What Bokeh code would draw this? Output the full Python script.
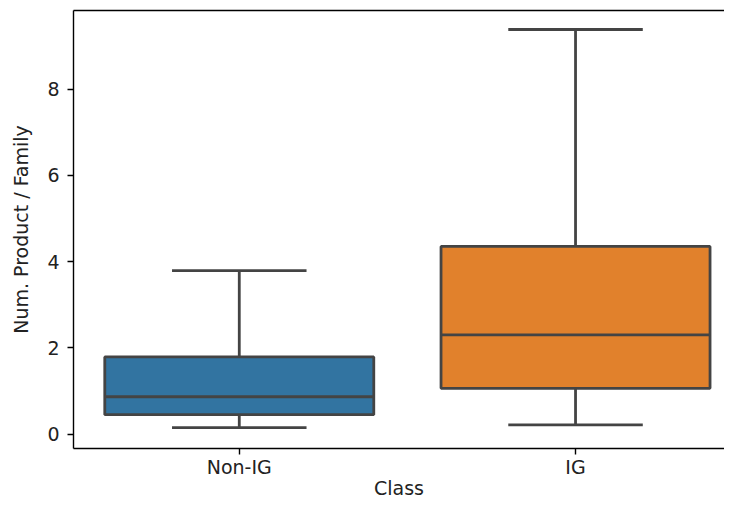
from bokeh.plotting import figure
from bokeh.models import ColumnDataSource, FixedTicker, LinearAxis, Range1d
from bokeh.embed import file_html
from bokeh.resources import INLINE

# ---- data ----
categories = ["Non-IG", "IG"]
whisker_low = [0.15, 0.216]
q1 = [0.45, 1.06]
median = [0.866, 2.30]
q3 = [1.79, 4.35]
whisker_high = [3.79, 9.38]
colors = ["#3274a1", "#e1812c"]
y_ticks = [0, 2, 4, 6, 8]
x_title = "Class"
y_title = "Num. Product / Family"

FONT = "DejaVu Sans"
FS = "19px"
GRAY = "#444444"
BOX_W = 0.8
CAP_W = 0.4
Y0, Y1 = -0.334, 9.82

xs = list(range(len(categories)))
src = ColumnDataSource(dict(
    x=xs,
    x0=[x - BOX_W / 2 for x in xs],
    x1=[x + BOX_W / 2 for x in xs],
    c0=[x - CAP_W / 2 for x in xs],
    c1=[x + CAP_W / 2 for x in xs],
    lo=whisker_low, q1=q1, med=median, q3=q3, hi=whisker_high, color=colors,
))

p = figure(width=724, height=502, output_backend="svg", toolbar_location=None,
           x_range=Range1d(-0.493, 1.443), y_range=Range1d(Y0, Y1),
           min_border_left=73, min_border_right=0, min_border_top=10, min_border_bottom=54)
p.outline_line_color = None
p.grid.visible = False
p.background_fill_color = "white"
p.border_fill_color = "white"

# whiskers
p.segment(x0="x", y0="q3", x1="x", y1="hi", source=src, line_color=GRAY, line_width=2.8)
p.segment(x0="x", y0="q1", x1="x", y1="lo", source=src, line_color=GRAY, line_width=2.8)
# caps
p.segment(x0="c0", y0="hi", x1="c1", y1="hi", source=src, line_color=GRAY, line_width=2.8)
p.segment(x0="c0", y0="lo", x1="c1", y1="lo", source=src, line_color=GRAY, line_width=2.8)
# boxes
p.vbar(x="x", width=BOX_W, bottom="q1", top="q3", source=src, fill_color="color",
       line_color=GRAY, line_width=2.8)
# medians
p.segment(x0="x0", y0="med", x1="x1", y1="med", source=src, line_color=GRAY, line_width=2.8)

# axes
for ax in (p.xaxis[0], p.yaxis[0]):
    ax.axis_line_color = "black"
    ax.axis_line_width = 1.4
    ax.major_tick_line_color = "black"
    ax.major_tick_line_width = 1.4
    ax.major_tick_out = 6
    ax.major_tick_in = 0
    ax.minor_tick_line_color = None
    ax.major_label_text_font = FONT
    ax.major_label_text_font_size = FS
    ax.major_label_text_color = "#222222"
    ax.axis_label_text_font = FONT
    ax.axis_label_text_font_size = FS
    ax.axis_label_text_font_style = "normal"
    ax.axis_label_text_color = "#222222"

p.xaxis.ticker = FixedTicker(ticks=xs)
p.xaxis.major_label_overrides = {i: c for i, c in enumerate(categories)}
p.xaxis.major_label_standoff = 1
p.xaxis.axis_label = x_title
p.xaxis.axis_label_standoff = -4

p.yaxis.ticker = FixedTicker(ticks=y_ticks)
p.yaxis.axis_label = y_title
p.yaxis.major_label_standoff = 8
p.yaxis.axis_label_standoff = 12

# top spine
top = LinearAxis(ticker=FixedTicker(ticks=[]), axis_line_color="black", axis_line_width=1.4,
                 major_tick_line_color=None, minor_tick_line_color=None,
                 major_tick_out=0, major_tick_in=0, major_label_standoff=0,
                 major_label_text_font_size="0px")
p.add_layout(top, "above")

open("out.html", "w").write(file_html(p, INLINE))
